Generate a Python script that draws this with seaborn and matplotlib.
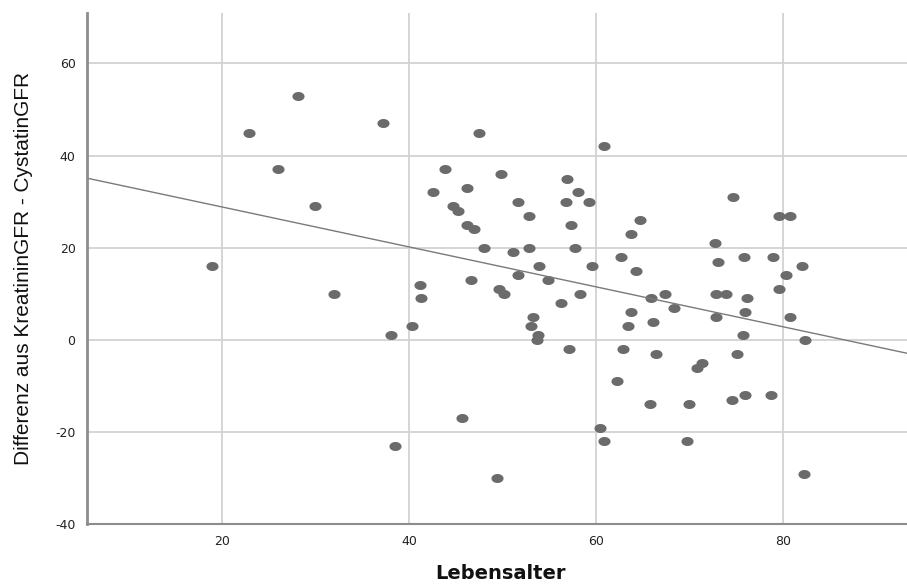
import numpy as np
import matplotlib
matplotlib.use("Agg")
import matplotlib.pyplot as plt
from matplotlib.path import Path
import seaborn as sns
import pandas as pd

# Data
lebensalter = [18.9, 22.8, 25.9, 28.1, 29.9, 32.0, 37.2, 38.1, 38.5, 40.3,
               41.3, 41.2, 43.8, 42.6, 46.2, 47.5, 44.7, 45.2, 46.2, 46.9,
               48.0, 46.6, 49.6, 49.8, 45.6, 49.4, 60.9, 56.9, 58.1, 51.7,
               56.8, 59.3, 52.8, 57.3, 74.7, 79.6, 80.8, 64.7, 63.7, 72.7,
               51.1, 52.8, 57.8, 73.1, 62.7, 75.8, 78.9, 53.9, 59.6, 82.1,
               64.3, 51.7, 80.3, 54.9, 79.6, 50.2, 56.2, 58.3, 65.9, 67.4,
               72.8, 73.9, 76.2, 68.4, 63.7, 76.0, 80.8, 72.9, 53.3, 66.1,
               53.0, 63.4, 53.8, 53.7, 75.7, 82.4, 57.1, 62.9, 66.4, 75.1,
               71.4, 70.8, 62.2, 65.8, 70.0, 74.6, 76.0, 78.7, 60.4, 60.9,
               69.7, 82.3]
differenz = [16, 45, 37, 53, 29, 10, 47, 1, -23, 3,
             9, 12, 37, 32, 33, 45, 29, 28, 25, 24,
             20, 13, 11, 36, -17, -30, 42, 35, 32, 30,
             30, 30, 27, 25, 31, 27, 27, 26, 23, 21,
             19, 20, 20, 17, 18, 18, 18, 16, 16, 16,
             15, 14, 14, 13, 11, 10, 8, 10, 9, 10,
             10, 10, 9, 7, 6, 6, 5, 5, 5, 4,
             3, 3, 1, 0, 1, 0, -2, -2, -3, -3,
             -5, -6, -9, -14, -14, -13, -12, -12, -19, -22,
             -22, -29]
x_ticks = [20, 40, 60, 80]
y_ticks = [-40, -20, 0, 20, 40, 60]

df = pd.DataFrame({"Lebensalter": lebensalter, "Differenz": differenz})

sns.set_theme(style="white")
plt.rcParams['font.family'] = ['DejaVu Sans']
plt.rcParams['axes.unicode_minus'] = False

fig = plt.figure(figsize=(9.07, 5.84), dpi=100)
ax = fig.add_axes([0.0956, 0.1022, 0.9044, 0.8760])
ax.set_xlim(5.47, 93.3)
ax.set_ylim(-40, 71)

# elliptical marker (reference is horizontally stretched)
t = np.linspace(0, 2 * np.pi, 41)
ell = Path(np.column_stack([1.34 * np.cos(t), np.sin(t)]), closed=True)

ax.set_axisbelow(True)
ax.grid(True, color="#d2d2d2", linewidth=1.3)

sns.regplot(data=df, x="Lebensalter", y="Differenz", ax=ax, ci=None,
            truncate=False, marker=ell,
            scatter_kws=dict(s=76, color="#6b6b6b", linewidths=0, alpha=1),
            line_kws=dict(color="#7a7a7a", linewidth=1.0))

ax.set_xticks(x_ticks)
ax.set_yticks(y_ticks)
for s in ["top", "right"]:
    ax.spines[s].set_visible(False)
ax.spines["left"].set_color("#8c8c8c")
ax.spines["left"].set_linewidth(2.0)
ax.spines["bottom"].set_color("#8c8c8c")
ax.spines["bottom"].set_linewidth(1.5)
ax.tick_params(axis="both", length=0, labelsize=9, colors="#222222", pad=8)

ax.set_xlabel("Lebensalter", fontsize=14, fontweight="bold", color="#111111")
ax.xaxis.set_label_coords(0.505, -0.077)
ax.set_ylabel("Differenz aus KreatininGFR - CystatinGFR", fontsize=15,
              family=["Liberation Sans"], color="#111111")
ax.yaxis.set_label_coords(-0.0655, 0.5)

fig.savefig("out.png", dpi=100)
